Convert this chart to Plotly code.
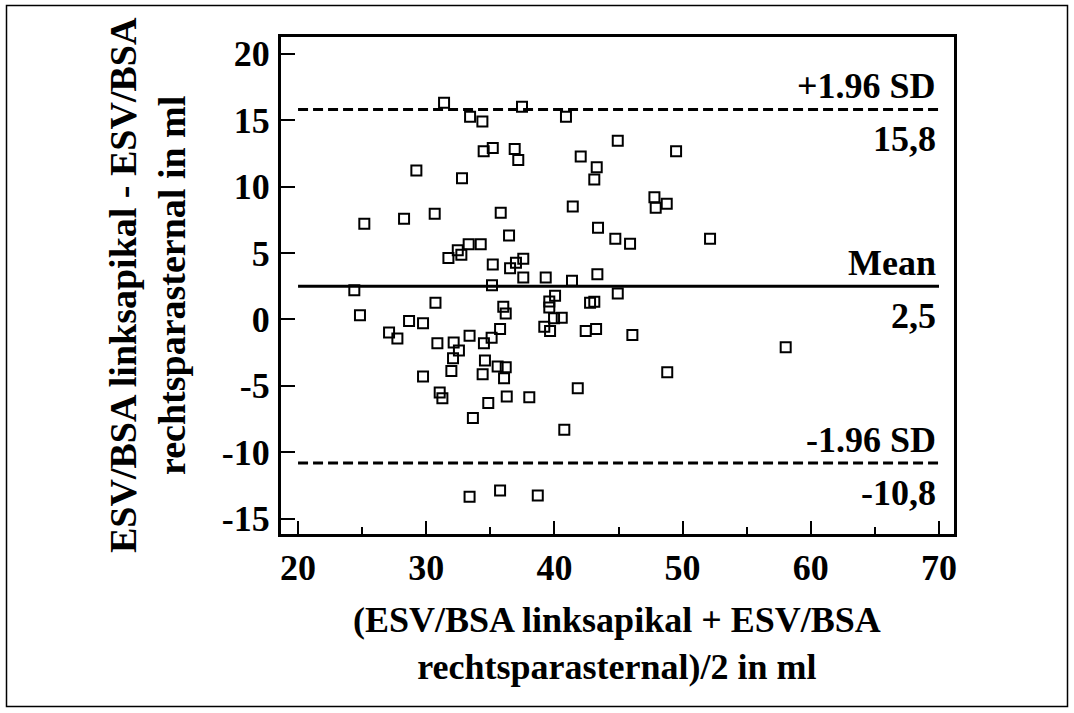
import plotly.graph_objects as go

# ---- data ----
mean_x = [25.17, 28.27, 29.23, 30.66, 31.39, 31.73, 32.46, 32.74, 32.79, 33.31,
          33.42, 34.25, 34.38, 34.48, 35.19, 35.19, 35.13, 35.81, 36.46, 36.54,
          36.90, 37.00, 37.18, 37.47, 37.57, 37.57, 39.32, 40.90, 41.43, 41.37,
          42.05, 43.30, 43.11, 43.40, 43.35, 44.94, 49.49, 47.80, 47.90, 48.76,
          44.75, 45.90, 52.14,
          24.39, 24.83, 27.10, 27.75, 28.66, 29.75, 29.75, 30.72, 30.87, 31.05,
          31.26, 31.96, 32.09, 32.14, 32.55, 33.38, 33.64, 33.38, 34.40, 34.50,
          34.58, 34.84, 35.10, 35.57, 35.76, 35.76, 36.01, 36.20, 36.20, 36.07,
          36.28, 38.04, 38.70, 39.21, 39.60, 39.60, 39.66, 40.05, 39.97, 40.57,
          40.77, 41.82, 42.44, 42.78, 43.11, 43.25, 44.94, 46.08, 58.04, 48.80]
diff_y = [7.20, 7.58, 11.20, 7.95, 16.30, 4.62, 5.20, 4.87, 10.62, 5.65,
          15.25, 5.65, 14.90, 12.65, 12.90, 4.13, 2.57, 8.03, 6.32, 3.85,
          12.83, 4.27, 12.00, 16.00, 4.57, 3.15, 3.15, 15.25, 8.50, 2.90,
          12.25, 11.45, 10.52, 6.90, 3.40, 13.45, 12.65, 9.20, 8.40, 8.70,
          6.07, 5.70, 6.07,
          2.20, 0.32, -0.98, -1.43, -0.13, -0.30, -4.30, 1.25, -1.80, -5.50,
          -5.93, -3.88, -2.93, -1.73, -2.35, -1.23, -7.43, -13.35, -4.13, -1.80,
          -3.10, -6.30, -1.38, -3.55, -12.88, -0.73, 0.95, 0.45, -3.60, -4.43,
          -5.80, -5.85, -13.25, -0.55, 1.35, 0.90, -0.88, 1.77, 0.08, 0.12,
          -8.30, -5.18, -0.88, 1.25, 1.32, -0.73, 1.95, -1.18, -2.10, -3.98]

mean_diff = 2.5
upper_loa = 15.8
lower_loa = -10.8
line_x = [20, 70]

x_tick_vals = [20, 30, 40, 50, 60, 70]
x_tick_text = ["20", "30", "40", "50", "60", "70"]
y_tick_vals = [-15, -10, -5, 0, 5, 10, 15, 20]
y_tick_text = ["-15", "-10", "-5", "0", "5", "10", "15", "20"]

line_labels_above = ["+1.96 SD", "Mean", "-1.96 SD"]
line_labels_below = ["15,8", "2,5", "-10,8"]
line_values = [upper_loa, mean_diff, lower_loa]

x_title = "(ESV/BSA linksapikal + ESV/BSA<br>rechtsparasternal)/2 in ml"
y_title = "ESV/BSA linksapikal - ESV/BSA<br>rechtsparasternal in ml"

# ---- layout geometry ----
W, H = 1074, 713
L, R, T, B = 281, 120, 37, 179
PW, PH = W - L - R, H - T - B
FONT = "Times New Roman, Liberation Serif, Times, serif"
FS = 36


def px_to_paper_x(px):
    return (px - L) / PW


def px_to_paper_y(py):
    return 1 - (py - T) / PH


def bold_font(size=FS):
    return dict(family=FONT, size=size, color="black", weight="bold")


fig = go.Figure()

fig.add_trace(go.Scatter(
    x=mean_x, y=diff_y, mode="markers",
    marker=dict(symbol="square-open", size=10, color="black",
                line=dict(width=2, color="black")),
    showlegend=False, hoverinfo="skip"))

for val, dash in [(upper_loa, "10px,5px"), (mean_diff, "solid"), (lower_loa, "10px,5px")]:
    fig.add_trace(go.Scatter(
        x=line_x, y=[val, val], mode="lines",
        line=dict(color="black", width=3, dash=dash),
        showlegend=False, hoverinfo="skip"))

annotations = []
for lab_a, lab_b, val in zip(line_labels_above, line_labels_below, line_values):
    annotations.append(dict(x=line_x[1], y=val, xref="x", yref="y",
                            text=lab_a, showarrow=False, xanchor="right",
                            yanchor="bottom", yshift=1, xshift=-1, font=bold_font()))
    annotations.append(dict(x=line_x[1], y=val, xref="x", yref="y",
                            text=lab_b, showarrow=False, xanchor="right",
                            yanchor="top", yshift=-8, xshift=-1, font=bold_font()))

annotations.append(dict(x=px_to_paper_x(617), y=px_to_paper_y(643), xref="paper", yref="paper",
                        text=x_title, showarrow=False, xanchor="center", yanchor="middle",
                        font=bold_font()))
annotations.append(dict(x=px_to_paper_x(147), y=px_to_paper_y(285), xref="paper", yref="paper",
                        text=y_title, showarrow=False, xanchor="center", yanchor="middle",
                        textangle=-90, font=bold_font(38)))

fig.update_layout(
    width=W, height=H,
    margin=dict(l=L, r=R, t=T, b=B, pad=0),
    paper_bgcolor="white", plot_bgcolor="white",
    font=dict(family=FONT),
    annotations=annotations,
    shapes=[dict(type="rect", xref="paper", yref="paper",
                 x0=px_to_paper_x(6.5), x1=px_to_paper_x(1067.5),
                 y0=px_to_paper_y(706.5), y1=px_to_paper_y(5.5),
                 line=dict(color="black", width=1.5), fillcolor="rgba(0,0,0,0)",
                 layer="below")],
)

fig.update_xaxes(
    range=[18.67, 71.17], showgrid=False, zeroline=False,
    showline=True, linecolor="black", linewidth=3, mirror=True,
    ticks="inside", ticklen=13, tickwidth=2, tickcolor="black",
    tickvals=x_tick_vals, ticktext=x_tick_text,
    minor=dict(dtick=5, tick0=0, ticks="inside", ticklen=7, tickwidth=2, tickcolor="black"),
    tickfont=bold_font(),
    ticklabelstandoff=0,
)
fig.update_yaxes(
    range=[-16.15, 21.25], showgrid=False, zeroline=False,
    showline=True, linecolor="black", linewidth=3, mirror=True,
    ticks="inside", ticklen=14, tickwidth=2, tickcolor="black",
    tickvals=y_tick_vals, ticktext=y_tick_text,
    tickfont=bold_font(),
    ticklabelstandoff=1,
)

fig.write_html("out.html")
